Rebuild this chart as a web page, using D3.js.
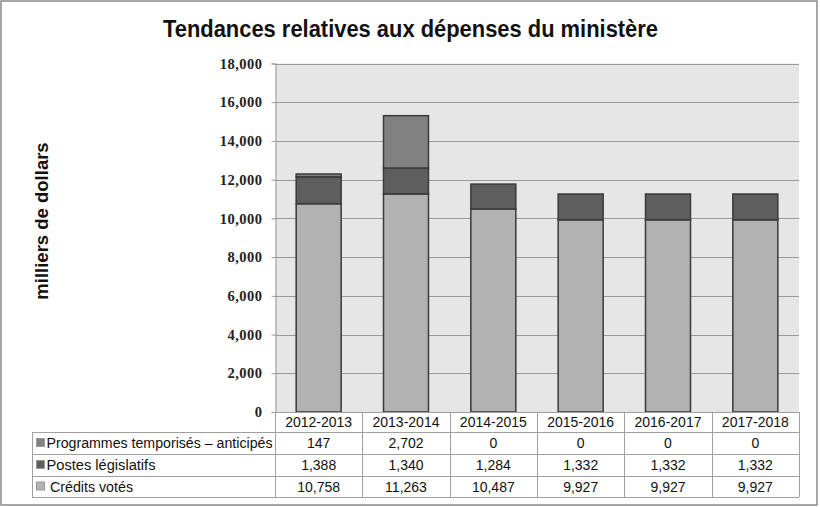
<!DOCTYPE html>
<html><head><meta charset="utf-8">
<script src="https://cdn.jsdelivr.net/npm/d3@7"></script>
<style>body{margin:0;background:#fff}svg{display:block}</style>
</head><body>
<script>
const categories = ["2012-2013","2013-2014","2014-2015","2015-2016","2016-2017","2017-2018"];
const seriesNames = ["Crédits votés","Postes législatifs","Programmes temporisés – anticipés"];
const creditsVotes = [10758,11263,10487,9927,9927,9927];
const postesLegislatifs = [1388,1340,1284,1332,1332,1332];
const programmesTemporises = [147,2702,0,0,0,0];
const yTicks = [0,2000,4000,6000,8000,10000,12000,14000,16000,18000];
const colors = {"Crédits votés":"#b2b2b2","Postes législatifs":"#5e5e5e","Programmes temporisés – anticipés":"#818181"};

(function(){
const W=820,H=507;
const svg=d3.select("body").append("svg").attr("width",W).attr("height",H);
svg.append("rect").attr("x",1).attr("y",1).attr("width",816).attr("height",504).attr("fill","#fff").attr("stroke","#8a8a8a").attr("stroke-width",1.5);

const pLeft=275,pRight=799,pTop=63.5,pBottom=412;
const x=d3.scaleBand().domain(categories).range([pLeft,pRight]);
const y=d3.scaleLinear().domain([0,18000]).range([pBottom,pTop]);

svg.append("text").attr("x",163).attr("y",37)
  .attr("font-family","Liberation Sans, Arial").attr("font-weight","bold").attr("font-size",23)
  .attr("textLength",495).attr("lengthAdjust","spacingAndGlyphs").attr("fill","#111")
  .text("Tendances relatives aux dépenses du ministère");

svg.append("rect").attr("x",pLeft).attr("y",pTop).attr("width",pRight-pLeft).attr("height",pBottom-pTop).attr("fill","#e6e6e6");

svg.append("g").selectAll("line").data(yTicks.filter(d=>d>0)).join("line")
  .attr("x1",pLeft).attr("x2",pRight).attr("y1",d=>Math.round(y(d))+0.5).attr("y2",d=>Math.round(y(d))+0.5)
  .attr("stroke","#9a9a9a").attr("stroke-width",1);

const yAxis=d3.axisLeft(y).tickValues(yTicks).tickFormat(d3.format(",")).tickSize(4).tickPadding(9);
const ga=svg.append("g").attr("transform",`translate(${pLeft+0.5},0)`).call(yAxis);
ga.select(".domain").attr("stroke","#9a9a9a");
ga.selectAll(".tick line").attr("stroke","#9a9a9a");
ga.selectAll(".tick text").attr("font-family","Liberation Serif, Times New Roman, serif").attr("font-weight","bold")
  .attr("font-size",14.5).attr("letter-spacing",0.5).attr("fill","#222");

svg.append("text").attr("transform","translate(48,221) rotate(-90)").attr("text-anchor","middle")
  .attr("font-family","Liberation Sans, Arial").attr("font-weight","bold").attr("font-size",18.5)
  .attr("fill","#111").text("milliers de dollars");

const rows=categories.map((c,i)=>({cat:c,"Crédits votés":creditsVotes[i],"Postes législatifs":postesLegislatifs[i],"Programmes temporisés – anticipés":programmesTemporises[i]}));
const stack=d3.stack().keys(seriesNames)(rows);
const bw=x.bandwidth()*0.515;
svg.append("g").selectAll("g").data(stack).join("g").attr("fill",d=>colors[d.key])
  .selectAll("rect").data(d=>d.filter(p=>p[1]-p[0]>0)).join("rect")
  .attr("x",d=>x(d.data.cat)+(x.bandwidth()-bw)/2).attr("width",bw)
  .attr("y",d=>y(d[1])).attr("height",d=>y(d[0])-y(d[1]))
  .attr("stroke","#3a3a3a").attr("stroke-width",1.5);

const tLeft=32, rowY=[412,432,454,476,497];
const tg=svg.append("g");
const lc="#a0a0a0";
tg.append("line").attr("x1",pLeft).attr("x2",pRight).attr("y1",rowY[0]+0.5).attr("y2",rowY[0]+0.5).attr("stroke",lc);
rowY.slice(1).forEach(yy=>tg.append("line").attr("x1",tLeft).attr("x2",pRight).attr("y1",yy+0.5).attr("y2",yy+0.5).attr("stroke",lc));
tg.append("line").attr("x1",tLeft+0.5).attr("x2",tLeft+0.5).attr("y1",rowY[1]).attr("y2",rowY[4]).attr("stroke",lc);
categories.forEach(c=>tg.append("line").attr("x1",Math.round(x(c))+0.5).attr("x2",Math.round(x(c))+0.5).attr("y1",rowY[0]).attr("y2",rowY[4]).attr("stroke",lc));
tg.append("line").attr("x1",pRight+0.5).attr("x2",pRight+0.5).attr("y1",rowY[0]).attr("y2",rowY[4]).attr("stroke",lc);

const tf="Liberation Sans, Arial", fs=14;
tg.selectAll("text.h").data(categories).join("text").attr("class","h")
  .attr("x",c=>x(c)+x.bandwidth()/2).attr("y",(rowY[0]+rowY[1])/2+5).attr("text-anchor","middle")
  .attr("font-family",tf).attr("font-size",fs).attr("fill","#111").text(c=>c);

const tableSeries=[
  {name:"Programmes temporisés – anticipés",vals:programmesTemporises,w:226},
  {name:"Postes législatifs",vals:postesLegislatifs,w:109},
  {name:"Crédits votés",vals:creditsVotes,w:83}];
const fmt=d3.format(",");
tableSeries.forEach((s,r)=>{
  const cy=(rowY[r+1]+rowY[r+2])/2;
  tg.append("rect").attr("x",36.5).attr("y",cy-4.5).attr("width",8).attr("height",8).attr("fill",colors[s.name]).attr("stroke","#999");
  tg.append("text").attr("x",r===2?50:46.5).attr("y",cy+5).attr("font-family",tf).attr("font-size",fs).attr("fill","#111")
    .attr("textLength",s.w).attr("lengthAdjust","spacingAndGlyphs").text(s.name);
  categories.forEach((c,i)=>{
    tg.append("text").attr("x",x(c)+x.bandwidth()/2).attr("y",cy+5).attr("text-anchor","middle")
      .attr("font-family",tf).attr("font-size",fs).attr("fill","#111").text(fmt(s.vals[i]));
  });
});
})();
</script>
</body></html>
